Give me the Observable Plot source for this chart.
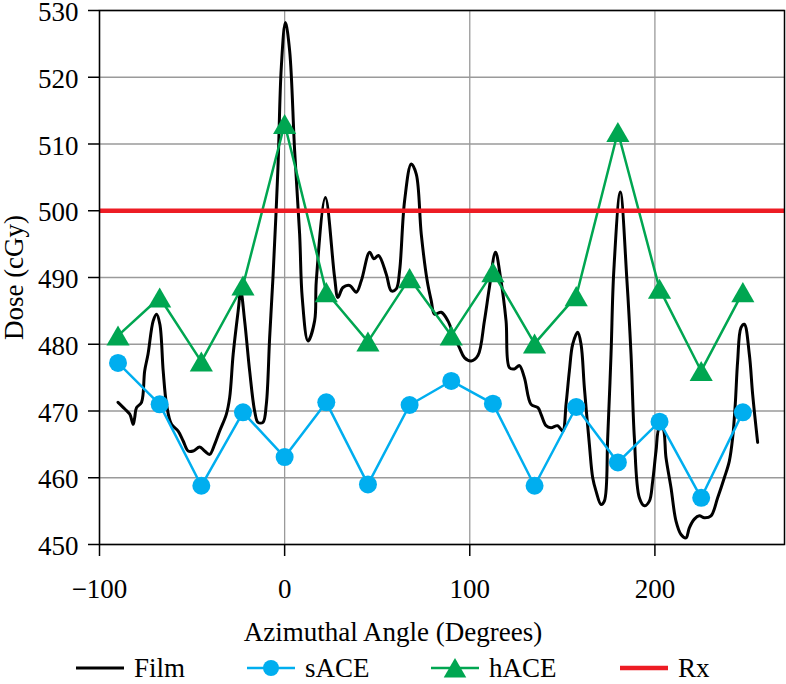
<!DOCTYPE html>
<html><head><meta charset="utf-8">
<script src="https://cdn.jsdelivr.net/npm/d3@7"></script>
<script src="https://cdn.jsdelivr.net/npm/@observablehq/plot@0.6"></script>
<style>
body{margin:0;background:#fff;font-family:'Liberation Serif','Times New Roman',Times,'DejaVu Serif',serif;color:#000;}
#wrap{position:relative;width:786px;height:684px;overflow:hidden;}
#xlabel{position:absolute;left:0;top:612px;width:786px;height:40px;line-height:40px;text-align:center;font-size:27px;}
#legend{position:absolute;left:0;top:652px;width:786px;height:32px;font-size:27px;}
.item{position:absolute;top:0;height:32px;display:flex;align-items:center;white-space:nowrap;}
.item svg{margin-right:10px;}
svg text{font-family:'Liberation Serif','Times New Roman',Times,'DejaVu Serif',serif;}
</style></head><body>
<div id="wrap"><div id="chart"></div><div id="xlabel">Azimuthal Angle (Degrees)</div><div id="legend"></div></div>
<script>
const filmAngle = [-90.0,-86.3,-83.6,-81.8,-81.0,-80.0,-77.3,-75.6,-73.8,-71.0,-69.2,-67.4,-65.6,-63.8,-61.1,-57.5,-54.8,-52.1,-49.4,-45.9,-43.2,-40.5,-37.8,-35.1,-31.5,-29.7,-27.8,-25.1,-23.7,-21.6,-18.9,-16.2,-14.4,-11.7,-9.9,-8.1,-6.3,-3.6,-1.8,0.4,2.7,5.4,8.1,9.5,12.6,16.2,17.1,22.0,27.0,28.8,31.5,35.1,38.7,41.4,45.9,48.2,50.7,54.9,57.6,60.3,62.1,64.8,68.4,71.1,73.8,77.0,79.2,81.0,84.6,88.2,91.7,94.4,97.1,100.8,104.4,107.9,110.6,113.9,116.6,119.6,121.4,124.1,126.8,129.5,133.1,136.8,138.5,141.2,143.9,147.5,150.2,152.0,153.8,155.6,158.3,160.1,161.9,164.6,166.4,168.2,170.9,172.7,174.5,176.3,177.8,181.3,184.9,187.1,188.9,191.6,194.3,197.0,198.8,200.6,202.4,204.2,206.0,208.7,211.4,214.1,216.8,218.6,221.3,224.0,226.7,230.3,233.9,237.5,240.2,242.0,243.4,244.7,246.5,248.3,251.0,252.8,255.5];
const filmDose = [471.3,470.3,469.5,468.0,469.0,470.5,471.3,476.0,478.5,483.5,484.5,483.0,476.0,471.0,468.0,467.0,465.5,464.0,464.0,464.6,464.0,463.5,465.0,467.0,469.5,472.0,478.5,485.0,488.0,483.5,476.0,470.0,468.3,468.3,471.0,481.0,490.0,506.5,521.5,528.2,524.0,509.0,496.5,487.0,480.5,483.5,489.5,502.0,490.0,487.0,488.5,488.8,487.8,489.5,493.8,492.8,493.3,490.5,488.0,488.3,491.0,501.5,507.0,505.5,496.5,489.5,486.5,484.5,484.8,483.5,481.0,479.5,478.0,477.5,478.3,483.5,488.5,493.8,490.0,483.5,476.5,476.3,476.8,475.0,471.0,470.5,469.5,467.8,467.5,467.8,467.0,471.0,476.0,480.0,481.8,480.0,473.5,465.0,460.0,458.0,456.0,456.5,466.0,478.5,491.0,502.8,489.5,478.5,466.0,457.0,455.8,456.5,459.5,464.0,467.5,467.5,463.0,458.5,453.5,451.5,451.0,452.5,453.8,454.3,454.0,454.3,457.0,460.0,462.5,466.0,471.0,477.5,482.5,483.0,478.5,472.5,465.3];
const aceAngle = [-90,-67.5,-45,-22.5,0,22.5,45,67.5,90,112.5,135,157.5,180,202.5,225,247.5];
const sACE = [477.2,471.0,458.8,469.8,463.1,471.3,459.0,470.9,474.5,471.1,458.8,470.6,462.3,468.4,457.0,469.8];
const hACE = [481.3,487.0,477.4,488.8,513.0,487.8,480.4,489.9,481.3,490.8,480.1,487.2,511.8,488.3,476.0,487.8];
const rxDose = [500];
const xTicks = [-100,0,100,200];
const yTicks = [450,460,470,480,490,500,510,520,530];
const seriesNames = ["Film","sACE","hACE","Rx"];
const seriesColors = ["#000000","#00AEEF","#00A651","#ED1C24"];

const serif = "'Liberation Serif','Times New Roman',Times,'DejaVu Serif',serif";
const film = filmAngle.map((a,i)=>({angle:a, dose:filmDose[i]}));
const s = aceAngle.map((a,i)=>({angle:a, dose:sACE[i]}));
const h = aceAngle.map((a,i)=>({angle:a, dose:hACE[i]}));

const chart = Plot.plot({
  width:786, height:612,
  marginLeft:99, marginRight:2, marginTop:10, marginBottom:68,
  style:{fontFamily:serif, fontSize:"27px", background:"white", color:"black", overflow:"visible"},
  x:{domain:[-100,270]},
  y:{domain:[450,530]},
  marks:[
    Plot.gridX(xTicks,{stroke:"#9a9a9a", strokeOpacity:1, strokeWidth:1.3}),
    Plot.gridY(yTicks,{stroke:"#9a9a9a", strokeOpacity:1, strokeWidth:1.3}),
    Plot.line(film,{x:"angle", y:"dose", curve:"catmull-rom", stroke:seriesColors[0], strokeWidth:3}),
    Plot.line(s,{x:"angle", y:"dose", stroke:seriesColors[1], strokeWidth:2.5}),
    Plot.dot(s,{x:"angle", y:"dose", r:9, fill:seriesColors[1], stroke:"none"}),
    Plot.line(h,{x:"angle", y:"dose", stroke:seriesColors[2], strokeWidth:2.5}),
    Plot.dot(h,{x:"angle", y:"dose", symbol:"triangle", r:8.6, dy:3.3, fill:seriesColors[2], stroke:"none"}),
    Plot.ruleY(rxDose,{stroke:seriesColors[3], strokeWidth:4.5}),
    Plot.frame({stroke:"black", strokeWidth:1.5}),
    Plot.axisX(xTicks,{tickSize:12, tickPadding:22, label:null, fontSize:27, fontFamily:serif, stroke:"black", strokeWidth:1.5, fill:"black"}),
    Plot.axisY(yTicks,{tickSize:11, tickFormat:()=>"", label:null, stroke:"black", strokeWidth:1.5}),
    Plot.axisY(yTicks,{tickSize:0, tickPadding:21, dy:2, label:"Dose (cGy)", labelAnchor:"center", labelArrow:false, fontSize:27, fontFamily:serif, stroke:"none", fill:"black"})
  ]
});
document.getElementById("chart").appendChild(chart);

// legend
const legendX = [76,247,431,620];
const legend = document.getElementById("legend");
seriesNames.forEach((name,i)=>{
  const item = document.createElement("div");
  item.className = "item";
  item.style.left = legendX[i]+"px";
  let marker = "";
  if (name==="sACE") marker = `<circle cx="24" cy="16" r="8" fill="${seriesColors[i]}"/>`;
  if (name==="hACE") marker = `<path d="${d3.symbol(d3.symbolTriangle, 220)()}" transform="translate(24,19)" fill="${seriesColors[i]}"/>`;
  const sw = name==="Rx" ? 4.5 : (name==="Film" ? 3 : 2.5);
  item.innerHTML = `<svg width="48" height="32"><line x1="0" x2="48" y1="16" y2="16" stroke="${seriesColors[i]}" stroke-width="${sw}"/>${marker}</svg><span>${name}</span>`;
  legend.appendChild(item);
});
</script>
</body></html>
